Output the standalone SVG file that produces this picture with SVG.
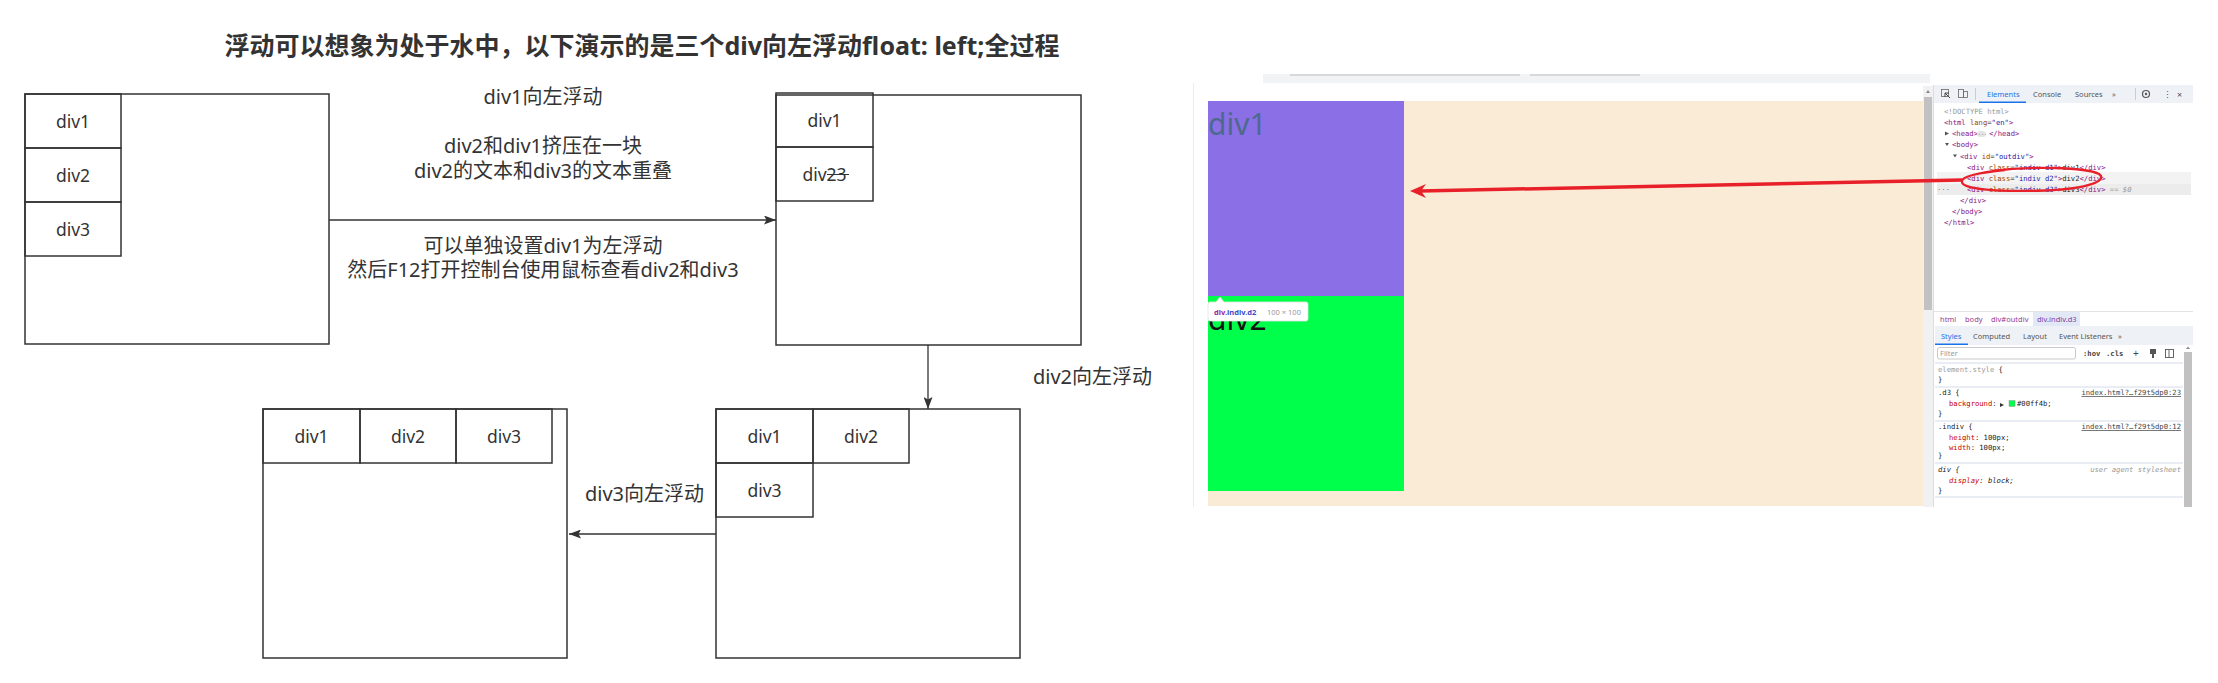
<svg xmlns="http://www.w3.org/2000/svg" width="2218" height="683" viewBox="0 0 2218 683">
<defs>
<style>
.box{fill:#fff;stroke:#333;stroke-width:1.5}
.cell{fill:none;stroke:#333;stroke-width:1.5}
.lbl{font-family:"Noto Sans","Noto Sans CJK SC",sans-serif;font-size:17.5px;fill:#333;text-anchor:middle}
.note{font-family:"Noto Sans","Noto Sans CJK SC",sans-serif;font-size:20px;fill:#333}
.mid{text-anchor:middle}
.title{font-family:"Noto Sans","Noto Sans CJK SC",sans-serif;font-size:25px;font-weight:bold;fill:#333;text-anchor:middle}
.edge{fill:none;stroke:#333;stroke-width:1.3}
.mono{font-family:"DejaVu Sans Mono","Liberation Mono",monospace;font-size:7.2px;fill:#222}
.ui{font-family:"Noto Sans","Liberation Sans",sans-serif;font-size:7.5px;fill:#555}
.tag{fill:#881280}
.att{fill:#994500}
.val{fill:#1a1aa6}
.prop{fill:#c80000}
.sep{stroke:#d3dbe8;stroke-width:1}
.red{stroke:#e8202a;fill:none}
</style>
<marker id="arr" markerWidth="12" markerHeight="9" refX="12" refY="4.5" orient="auto" markerUnits="userSpaceOnUse" viewBox="0 0 12 9">
<path d="M0,0 L12,4.5 L0,9 L2.5,4.5 Z" fill="#333"/>
</marker>
</defs>
<rect x="0" y="0" width="2218" height="683" fill="#fff"/>

<text id="title" class="title" x="642" y="55">浮动可以想象为处于水中，以下演示的是三个div向左浮动float: left;全过程</text>

<g id="connectors">
<path class="edge" d="M329,220 L776,220" marker-end="url(#arr)"/>
<path class="edge" d="M928,345 L928,409" marker-end="url(#arr)"/>
<path class="edge" d="M716,534 L569,534" marker-end="url(#arr)"/>
<text class="note mid" x="543" y="104">div1向左浮动</text>
<text class="note mid" x="543" y="153">div2和div1挤压在一块</text>
<text class="note mid" x="543" y="178">div2的文本和div3的文本重叠</text>
<text class="note mid" x="543" y="253">可以单独设置div1为左浮动</text>
<text class="note mid" x="543" y="277">然后F12打开控制台使用鼠标查看div2和div3</text>
<text class="note" x="1033" y="384">div2向左浮动</text>
<text class="note" x="585" y="501">div3向左浮动</text>
</g>

<g id="nodeA">
<rect class="box" x="25" y="94" width="304" height="250"/>
<rect class="cell" x="25" y="94" width="96" height="54"/>
<rect class="cell" x="25" y="148" width="96" height="54"/>
<rect class="cell" x="25" y="202" width="96" height="54"/>
<text class="lbl" x="73" y="128">div1</text>
<text class="lbl" x="73" y="182">div2</text>
<text class="lbl" x="73" y="236">div3</text>
</g>

<g id="nodeB">
<rect class="box" x="776" y="95" width="305" height="250"/>
<rect class="cell" x="776" y="93" width="97" height="54"/>
<rect class="cell" x="776" y="147" width="97" height="54"/>
<text class="lbl" x="824.5" y="127">div1</text>
<text class="lbl" x="824.5" y="181">div23</text>
<line x1="827" y1="174.5" x2="849" y2="174.5" stroke="#333" stroke-width="1"/>
</g>

<g id="nodeC">
<rect class="box" x="716" y="409" width="304" height="249"/>
<rect class="cell" x="716" y="409" width="97" height="54"/>
<rect class="cell" x="813" y="409" width="96" height="54"/>
<rect class="cell" x="716" y="463" width="97" height="54"/>
<text class="lbl" x="764.5" y="443">div1</text>
<text class="lbl" x="861" y="443">div2</text>
<text class="lbl" x="764.5" y="497">div3</text>
</g>

<g id="nodeD">
<rect class="box" x="263" y="409" width="304" height="249"/>
<rect class="cell" x="263" y="409" width="97" height="54"/>
<rect class="cell" x="360" y="409" width="96" height="54"/>
<rect class="cell" x="456" y="409" width="96" height="54"/>
<text class="lbl" x="311.5" y="443">div1</text>
<text class="lbl" x="408" y="443">div2</text>
<text class="lbl" x="504" y="443">div3</text>
</g>

<g id="screenshot">
<!-- browser chrome -->
<rect x="1263" y="74" width="667" height="9" fill="#f1f3f4"/>
<rect x="1290" y="74" width="230" height="2" fill="#d6d8db"/>
<rect x="1530" y="74" width="110" height="2" fill="#d6d8db"/>
<rect x="1193" y="83" width="1000" height="424" fill="#fff"/>
<line x1="1193.5" y1="83" x2="1193.5" y2="507" stroke="#ececec"/>
<!-- page -->
<rect x="1208" y="101" width="715" height="405" fill="#faebd7"/>
<rect x="1208" y="101" width="196" height="195" fill="#8b6fe7"/>
<rect x="1208" y="296" width="196" height="195" fill="#00ff4b"/>
<text x="1208" y="135" font-family="Noto Sans, sans-serif" font-size="30" fill="#4d6a8c">div1</text>
<text x="1208" y="330" font-family="Noto Sans, sans-serif" font-size="30" fill="#111">div2</text>
<!-- tooltip -->
<path d="M1210,302 L1216,302 L1220,297 L1224,302 L1306,302 Q1308,302 1308,304 L1308,319 Q1308,321 1306,321 L1210,321 Q1208,321 1208,319 L1208,304 Q1208,302 1210,302 Z" fill="#fff" stroke="#e2e2e2" stroke-width="0.8"/>
<text x="1214" y="314.5" font-family="Noto Sans, sans-serif" font-size="7.5" font-weight="bold"><tspan fill="#a4239a">div</tspan><tspan fill="#3b4bc4">.indiv.d2</tspan></text>
<text x="1267" y="314.5" font-family="Noto Sans, sans-serif" font-size="7.5" fill="#999">100 × 100</text>
<!-- page scrollbar -->
<rect x="1923" y="86" width="10" height="421" fill="#f1f1f1"/>
<rect x="1924" y="97" width="8" height="213" fill="#c1c1c1"/>
<path d="M1926,93 L1928,90 L1930,93 Z" fill="#888"/>
<!-- devtools -->
<line x1="1933.5" y1="85" x2="1933.5" y2="507" stroke="#ddd"/>
<rect x="1934" y="85" width="259" height="18" fill="#eef1f6"/>
<rect x="1941.5" y="89.5" width="7" height="7" fill="none" stroke="#666" stroke-width="0.8"/>
<path d="M1945,93 L1950,98 M1945,93 L1945,97 M1945,93 L1949,93" stroke="#444" stroke-width="1" fill="none"/>
<rect x="1958.5" y="89.5" width="5" height="8" fill="none" stroke="#666" stroke-width="0.8"/>
<rect x="1963.5" y="91.5" width="4" height="6" fill="none" stroke="#666" stroke-width="0.8"/>
<line x1="1975.5" y1="88" x2="1975.5" y2="100" stroke="#ccc"/>
<text class="ui" x="1987" y="97" fill="#1a73e8" style="fill:#1a73e8">Elements</text>
<rect x="1979" y="101.5" width="47" height="1.5" fill="#1a73e8"/>
<text class="ui" x="2033" y="97">Console</text>
<text class="ui" x="2075" y="97">Sources</text>
<text class="ui" x="2112" y="97">»</text>
<line x1="2135.5" y1="88" x2="2135.5" y2="100" stroke="#ccc"/>
<circle cx="2146" cy="94" r="3.5" fill="none" stroke="#555" stroke-width="1.2"/>
<circle cx="2146" cy="94" r="1.2" fill="#555"/>
<text class="ui" x="2162.5" y="97.5" style="font-size:9px">⋮</text>
<text class="ui" x="2177" y="97.5" style="font-size:9px">×</text>

<!-- DOM tree -->
<rect x="1937" y="172" width="254" height="12" fill="#f3f3f3"/>
<rect x="1937" y="184" width="254" height="11" fill="#ececec"/>
<text class="mono" x="1944" y="113.5" style="fill:#999">&lt;!DOCTYPE html&gt;</text>
<text class="mono" x="1944" y="124.5"><tspan class="tag">&lt;html</tspan><tspan class="att"> lang</tspan>=<tspan class="val">"en"</tspan><tspan class="tag">&gt;</tspan></text>
<path d="M1945,131.5 L1949,133.5 L1945,135.5 Z" fill="#555"/>
<text class="mono" x="1952" y="136"><tspan class="tag">&lt;head&gt;</tspan></text>
<rect x="1977" y="131" width="9" height="6" rx="3" fill="#e4e4e4"/>
<text class="mono" x="1978" y="135.5" style="font-size:5px;fill:#555">···</text>
<text class="mono" x="1989" y="136"><tspan class="tag">&lt;/head&gt;</tspan></text>
<path d="M1945,143 L1949,143 L1947,146 Z" fill="#555"/>
<text class="mono" x="1952" y="147"><tspan class="tag">&lt;body&gt;</tspan></text>
<path d="M1953,154.5 L1957,154.5 L1955,157.5 Z" fill="#555"/>
<text class="mono" x="1960" y="158.5"><tspan class="tag">&lt;div</tspan><tspan class="att"> id</tspan>=<tspan class="val">"outdiv"</tspan><tspan class="tag">&gt;</tspan></text>
<text class="mono" x="1967" y="169.5"><tspan class="tag">&lt;div</tspan><tspan class="att"> class</tspan>=<tspan class="val">"indiv d1"</tspan><tspan class="tag">&gt;</tspan>div1<tspan class="tag">&lt;/div&gt;</tspan></text>
<text class="mono" x="1967" y="180.5"><tspan class="tag">&lt;div</tspan><tspan class="att"> class</tspan>=<tspan class="val">"indiv d2"</tspan><tspan class="tag">&gt;</tspan>div2<tspan class="tag">&lt;/div&gt;</tspan></text>
<text class="mono" x="1937" y="191.5" style="fill:#777">···</text>
<text class="mono" x="1967" y="191.5"><tspan class="tag">&lt;div</tspan><tspan class="att"> class</tspan>=<tspan class="val">"indiv d3"</tspan><tspan class="tag">&gt;</tspan>div3<tspan class="tag">&lt;/div&gt;</tspan><tspan fill="#999" font-style="italic"> == $0</tspan></text>
<text class="mono" x="1960" y="203"><tspan class="tag">&lt;/div&gt;</tspan></text>
<text class="mono" x="1952" y="214"><tspan class="tag">&lt;/body&gt;</tspan></text>
<text class="mono" x="1944" y="225"><tspan class="tag">&lt;/html&gt;</tspan></text>

<!-- breadcrumb -->
<line x1="1934" y1="311.5" x2="2193" y2="311.5" stroke="#e3e3e3"/>
<rect x="2033" y="312" width="47" height="14" fill="#e2e8f5"/>
<text class="ui" x="1940" y="322" style="fill:#9b3b8e">html</text>
<text class="ui" x="1965" y="322" style="fill:#9b3b8e">body</text>
<text class="ui" x="1991" y="322" style="fill:#9b3b8e">div#outdiv</text>
<text class="ui" x="2037" y="322" style="fill:#7a3fa8">div.indiv.d3</text>
<!-- style tabs -->
<rect x="1935" y="326" width="258" height="19" fill="#eef1f6"/>
<text class="ui" x="1941" y="339" style="fill:#1a73e8">Styles</text>
<rect x="1935" y="343.5" width="33" height="1.5" fill="#1a73e8"/>
<text class="ui" x="1973" y="339">Computed</text>
<text class="ui" x="2023" y="339">Layout</text>
<text class="ui" x="2059" y="339">Event Listeners</text>
<text class="ui" x="2118" y="339">»</text>
<!-- filter -->
<rect x="1937.5" y="347.5" width="138" height="11.5" rx="2" fill="#fff" stroke="#bbb" stroke-width="0.8"/>
<text class="ui" x="1940" y="356" style="fill:#999">Filter</text>
<text class="mono" x="2083" y="356" font-weight="bold" style="fill:#444">:hov</text>
<text class="mono" x="2106" y="356" font-weight="bold" style="fill:#444">.cls</text>
<text class="ui" x="2133" y="357" style="font-size:10px;fill:#444">+</text>
<rect x="2150" y="349" width="6" height="5" fill="#555"/>
<rect x="2152" y="354" width="2" height="4" fill="#555"/>
<rect x="2165.5" y="349.5" width="8" height="8" fill="none" stroke="#555" stroke-width="0.9"/>
<line x1="2169" y1="350" x2="2169" y2="357" stroke="#555" stroke-width="0.9"/>
<!-- rules -->
<line class="sep" x1="1935" y1="363" x2="2183" y2="363"/>
<line class="sep" x1="1935" y1="387" x2="2183" y2="387"/>
<line class="sep" x1="1935" y1="421" x2="2183" y2="421"/>
<line class="sep" x1="1935" y1="463" x2="2183" y2="463"/>
<line class="sep" x1="1935" y1="497" x2="2183" y2="497"/>
<text class="mono" x="1938" y="371.5"><tspan fill="#999">element.style</tspan> {</text>
<text class="mono" x="1938" y="382">}</text>
<text class="mono" x="1938" y="395">.d3 {</text>
<text class="mono" x="2181" y="395" text-anchor="end" text-decoration="underline" style="fill:#444">index.html?…f29t5dp0:23</text>
<text class="mono" x="1949" y="406"><tspan class="prop">background</tspan>: </text>
<path d="M2000,403 L2004,405 L2000,407 Z" fill="#333"/>
<rect x="2009" y="400.5" width="6" height="6" fill="#00ff4b" stroke="#888" stroke-width="0.4"/>
<text class="mono" x="2017" y="406">#00ff4b;</text>
<text class="mono" x="1938" y="416">}</text>
<text class="mono" x="1938" y="429">.indiv {</text>
<text class="mono" x="2181" y="429" text-anchor="end" text-decoration="underline" style="fill:#444">index.html?…f29t5dp0:12</text>
<text class="mono" x="1949" y="440"><tspan class="prop">height</tspan>: 100px;</text>
<text class="mono" x="1949" y="449.5"><tspan class="prop">width</tspan>: 100px;</text>
<text class="mono" x="1938" y="458">}</text>
<text class="mono" x="1938" y="472" font-style="italic">div {</text>
<text class="mono" x="2181" y="472" text-anchor="end" font-style="italic" style="fill:#999">user agent stylesheet</text>
<text class="mono" x="1949" y="483" font-style="italic"><tspan class="prop">display</tspan>: block;</text>
<text class="mono" x="1938" y="493">}</text>
<rect x="2184" y="352" width="8" height="155" fill="#c1c1c1"/>
<path d="M2186,349 L2188,346.5 L2190,349 Z" fill="#888"/>
<!-- red annotation -->
<path class="red" stroke-width="3.5" d="M1962,180 L1420,191"/>
<path d="M1410,191 L1426,184 L1421,191 L1426,198 Z" fill="#e8202a"/>
<path class="red" stroke-width="2.3" d="M1992,171 C2030,166 2085,167 2099,174 C2108,180 2090,189 2045,190.5 C1995,192 1960,189 1962,181 C1963,175 1985,172 2005,170"/>
</g>
</svg>
